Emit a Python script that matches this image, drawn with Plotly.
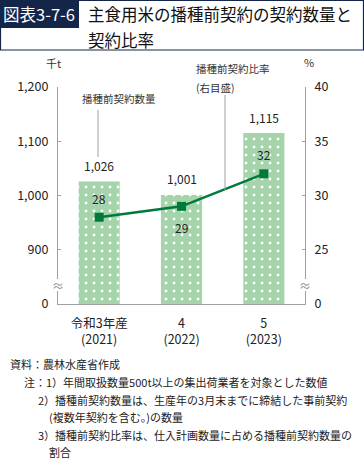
import plotly.graph_objects as go

# ---- data ----
categories = ["令和3年産<br>(2021)", "4<br>(2022)", "5<br>(2023)"]
contract_qty = [1026, 1001, 1115]          # 千t
contract_ratio = [28, 29, 32]              # %
left_tickvals = [800, 900, 1000, 1100, 1200]
left_ticktext = ["0", "900", "1,000", "1,100", "1,200"]
right_tickvals = [20, 25, 30, 35, 40]
right_ticktext = ["0", "25", "30", "35", "40"]

title_label = "図表3-7-6"
title_text = ["主食用米の播種前契約の契約数量と", "契約比率"]
notes = [
    "資料：農林水産省作成",
    "注：1）年間取扱数量500t以上の集出荷業者を対象とした数値",
    "2）播種前契約数量は、生産年の3月末までに締結した事前契約",
    "(複数年契約を含む。)の数量",
    "3）播種前契約比率は、仕入計画数量に占める播種前契約数量の",
    "割合",
]

W, H = 364, 459
L, R, T, B = 58, 305, 87, 304
FONT = "Noto Sans CJK JP"
BAR_GREEN = "#a5d4aa"
LINE_GREEN = "#007a3a"
NAVY = "#14254a"
GRAY = "#a0a0a0"


def px(x):
    return (x - L) / (R - L)


def py(y):
    return (B - y) / (B - T)


def note(x, y, text, size, color="#222", xanchor="center", family=None):
    f = dict(size=size, color=color)
    if family:
        f["family"] = family
    return dict(x=px(x), y=py(y), xref="paper", yref="paper", xanchor=xanchor,
                yanchor="middle", text=text, showarrow=False, font=f)


fig = go.Figure()
fig.add_trace(go.Bar(
    x=categories, y=contract_qty, width=0.5,
    marker=dict(color=BAR_GREEN, line=dict(width=0),
                pattern=dict(shape=".", bgcolor=BAR_GREEN, fgcolor="white",
                             size=8, solidity=0.1, fillmode="replace")),
    showlegend=False, hoverinfo="skip",
))
fig.add_trace(go.Scatter(
    x=categories, y=contract_ratio, yaxis="y2", mode="lines+markers",
    line=dict(color=LINE_GREEN, width=2.5),
    marker=dict(symbol="square", size=9, color=LINE_GREEN),
    showlegend=False, hoverinfo="skip",
))

ann = []
# bar value labels
for c, v in zip(categories, contract_qty):
    ann.append(dict(x=c, y=v, xref="x", yref="y", text=f"{v:,}", showarrow=False,
                    yanchor="middle", yshift=16, font=dict(size=12, color="#222")))
# ratio labels
ratio_shift = [19, -21, 19]
for c, v, s in zip(categories, contract_ratio, ratio_shift):
    ann.append(dict(x=c, y=v, xref="x", yref="y2", text=str(v), showarrow=False,
                    yanchor="middle", yshift=s, font=dict(size=12, color="#222")))

# series name labels
ann.append(note(80, 98, "播種前契約数量", 10.5, "#333", "left"))
ann.append(note(194, 68, "播種前契約比率", 10.5, "#333", "left"))
ann.append(note(194, 87, "(右目盛)", 10.5, "#333", "left"))
# units
ann.append(note(53, 63, "千t", 11, "#333"))
ann.append(note(309, 62, "%", 11, "#333"))
# break marks
for xx in (L, R):
    ann.append(note(xx, 285, "≈", 12, "#888"))

# title
ann.append(note(39, 14, title_label, 16.5, "white", "center", FONT))
ann.append(note(86, 14, title_text[0], 16.5, "#111", "left"))
ann.append(note(86, 40, title_text[1], 16.5, "#111", "left"))

# notes
note_pos = [(8, 364), (22, 382), (36, 400), (47, 417), (36, 435), (47, 452)]
for t, (nx, ny) in zip(notes, note_pos):
    ann.append(note(nx, ny, t, 11, "#222", "left"))

shapes = [
    # title frame
    dict(type="rect", xref="paper", yref="paper", x0=px(0.5), x1=px(363.5),
         y0=py(50), y1=py(0.5), line=dict(color=NAVY, width=1.2), layer="below"),
    dict(type="rect", xref="paper", yref="paper", x0=px(0), x1=px(79),
         y0=py(28), y1=py(0), fillcolor=NAVY, line=dict(width=0), layer="below"),
    # leader lines
    dict(type="line", xref="paper", yref="paper", x0=px(98), x1=px(98),
         y0=py(110), y1=py(157), line=dict(color=GRAY, width=1)),
    dict(type="line", xref="paper", yref="paper", x0=px(225), x1=px(225),
         y0=py(95), y1=py(190), line=dict(color=GRAY, width=1)),
    # axis break gaps
    dict(type="rect", xref="paper", yref="paper", x0=px(L - 3), x1=px(L + 2),
         y0=py(291), y1=py(279), fillcolor="white", line=dict(width=0), layer="above"),
    dict(type="rect", xref="paper", yref="paper", x0=px(R - 2), x1=px(R + 3),
         y0=py(291), y1=py(279), fillcolor="white", line=dict(width=0), layer="above"),
]

fig.update_layout(
    width=W, height=H,
    margin=dict(l=L, r=W - R, t=T, b=H - B, autoexpand=False),
    paper_bgcolor="white", plot_bgcolor="white",
    font=dict(family=FONT, color="#222"),
    bargap=0.5,
    xaxis=dict(showline=True, linecolor=GRAY, linewidth=1.2, ticks="",
               tickfont=dict(size=12.5, color="#222"), showgrid=False,
               automargin=False, ticklabelstandoff=8),
    yaxis=dict(range=[800, 1200], tickvals=left_tickvals, ticktext=left_ticktext,
               showline=True, linecolor=GRAY, linewidth=1.2, ticks="inside",
               ticklen=3, tickcolor=GRAY, showgrid=False, zeroline=False,
               tickfont=dict(size=12.5, color="#222"), ticklabelstandoff=6,
               automargin=False),
    yaxis2=dict(range=[20, 40], tickvals=right_tickvals, ticktext=right_ticktext,
                overlaying="y", side="right", showline=True, linecolor=GRAY,
                linewidth=1.2, ticks="inside", ticklen=3, tickcolor=GRAY,
                showgrid=False, zeroline=False,
                tickfont=dict(size=12.5, color="#222"), ticklabelstandoff=6,
                automargin=False),
    annotations=ann, shapes=shapes,
)

fig.write_html("out.html", config={"displayModeBar": False},
               post_script="document.body.style.margin='0';"
                           "document.body.style.overflow='hidden';")
